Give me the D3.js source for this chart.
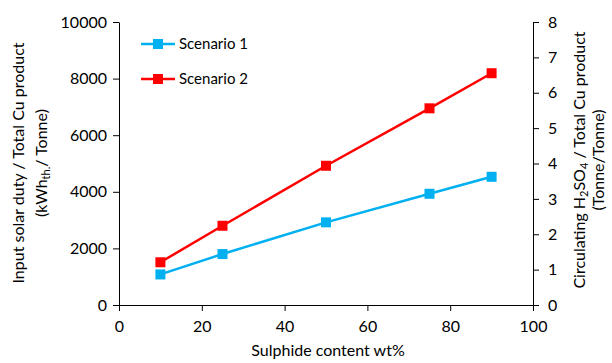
<!DOCTYPE html>
<html>
<head>
<meta charset="utf-8">
<script src="https://cdn.jsdelivr.net/npm/d3@7"></script>
<style>
  body { margin: 0; background: #fff; }
  svg text { font-family: Lato, "Open Sans", sans-serif; fill: #000; }
  .axis path, .axis line { stroke: #000; stroke-width: 1; }
  .axis text { font-size: 16px; }
</style>
</head>
<body>
<div id="chart"></div>
<script>
var sulphide = [10, 25, 50, 75, 90];
var scenario1 = [1080, 1800, 2920, 3930, 4530];
var scenario2 = [1510, 2800, 4920, 6950, 8190];
var xTicks = [0, 20, 40, 60, 80, 100];
var yTicks = [0, 2000, 4000, 6000, 8000, 10000];
var y2Ticks = [0, 1, 2, 3, 4, 5, 6, 7, 8];

var series = [
  {name: "Scenario 1", values: scenario1, color: "#00b0f0"},
  {name: "Scenario 2", values: scenario2, color: "#ff0000"}
];

var width = 612, height = 363;
var margin = {top: 22, right: 79, bottom: 58, left: 119};

var svg = d3.select("#chart").append("svg")
    .attr("width", width)
    .attr("height", height);

var x = d3.scaleLinear().domain([0, 100]).range([margin.left, width - margin.right]);
var y = d3.scaleLinear().domain([0, 10000]).range([height - margin.bottom, margin.top]);
var y2 = d3.scaleLinear().domain([0, 8]).range([height - margin.bottom, margin.top]);

svg.append("g")
  .attr("class", "axis")
  .attr("transform", "translate(0," + (height - margin.bottom) + ")")
  .call(d3.axisBottom(x).tickValues(xTicks).tickSize(6).tickSizeOuter(0).tickPadding(10))
  .call(g => g.select(".domain").attr("d", "M" + (margin.left - 6) + ",0.5H" + (width - margin.right + 6)));

svg.append("g")
  .attr("class", "axis")
  .attr("transform", "translate(" + margin.left + ",0)")
  .call(d3.axisLeft(y).tickValues(yTicks).tickFormat(d3.format("d")).tickSize(6).tickSizeOuter(0).tickPadding(6));

svg.append("g")
  .attr("class", "axis")
  .attr("transform", "translate(" + (width - margin.right) + ",0)")
  .call(d3.axisRight(y2).tickValues(y2Ticks).tickSize(6).tickSizeOuter(0).tickPadding(9));

svg.selectAll(".axis text").attr("font-family", "Lato, sans-serif");

var line = d3.line()
    .x((d, i) => x(sulphide[i]))
    .y(d => y(d));

series.forEach(function(s) {
  svg.append("path")
    .attr("d", line(s.values))
    .attr("fill", "none")
    .attr("stroke", s.color)
    .attr("stroke-width", 2.5);
  svg.selectAll(null)
    .data(s.values)
    .enter().append("rect")
    .attr("x", (d, i) => x(sulphide[i]) - 5)
    .attr("y", d => y(d) - 5)
    .attr("width", 10)
    .attr("height", 10)
    .attr("fill", s.color);
});

// legend
var legend = svg.append("g").attr("transform", "translate(141,44)");
series.forEach(function(s, i) {
  var g = legend.append("g").attr("transform", "translate(0," + (i * 35) + ")");
  g.append("line").attr("x1", 0).attr("x2", 34).attr("stroke", s.color).attr("stroke-width", 2.5);
  g.append("rect").attr("x", 12).attr("y", -5).attr("width", 10).attr("height", 10).attr("fill", s.color);
  g.append("text").attr("x", 38).attr("y", 5).attr("font-size", 15).text(s.name);
});

// axis titles
svg.append("text")
  .attr("x", x(50) + 2)
  .attr("y", 356)
  .attr("text-anchor", "middle")
  .attr("font-size", 16)
  .text("Sulphide content wt%");

var lt = svg.append("text")
  .attr("transform", "translate(24,163) rotate(-90)")
  .attr("text-anchor", "middle")
  .attr("font-size", 16);
lt.append("tspan").attr("x", 0).attr("y", 0).text("Input solar duty / Total Cu product");
lt.append("tspan").attr("x", 0).attr("y", 23).text("(kWh");
lt.append("tspan").attr("font-size", 11).attr("dy", 3).text("th.");
lt.append("tspan").attr("dy", -3).text("/ Tonne)");

var rt = svg.append("text")
  .attr("transform", "translate(585,160) rotate(-90)")
  .attr("text-anchor", "middle")
  .attr("font-size", 16);
rt.append("tspan").attr("x", 0).attr("y", 0).text("Circulating H");
rt.append("tspan").attr("font-size", 11).attr("dy", 3).text("2");
rt.append("tspan").attr("dy", -3).text("SO");
rt.append("tspan").attr("font-size", 11).attr("dy", 3).text("4");
rt.append("tspan").attr("dy", -3).text(" / Total Cu product");
rt.append("tspan").attr("x", 0).attr("y", 19).text("(Tonne/Tonne)");
</script>
</body>
</html>
